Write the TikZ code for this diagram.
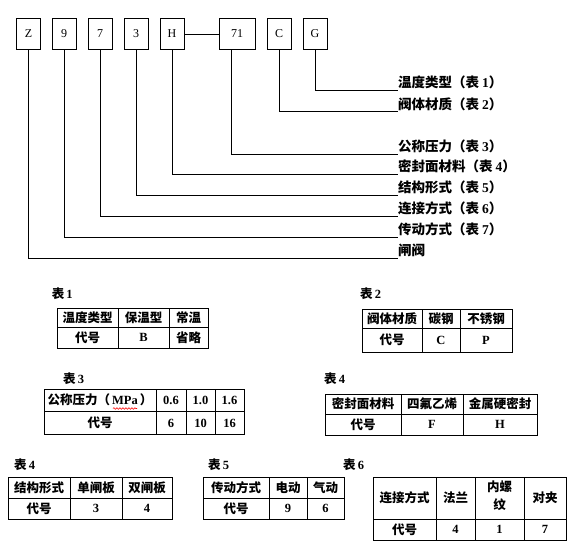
\documentclass[tikz,border=0pt]{standalone}
\usepackage{fontspec}
\setmainfont{Liberation Serif}
\newfontfamily\cjk{Noto Sans CJK SC}
\usetikzlibrary{decorations.pathmorphing}
\newcommand{\zh}[1]{{\cjk\bfseries #1}}
\newcommand{\nb}[1]{{\bfseries #1}}
\begin{document}
\begin{tikzpicture}[x=1pt,y=-1pt,
  codebox/.style={draw,line width=1pt,minimum width=24pt,minimum height=31pt,inner sep=0pt,font=\fontsize{12}{12}\selectfont},
  lbl/.style={anchor=south west,inner xsep=0pt,inner ysep=1pt,font=\fontsize{13.5}{14}\selectfont},
  conn/.style={line width=1pt},
  cell/.style={inner sep=0pt,font=\fontsize{12.5}{14}\selectfont,align=center},
  tabttl/.style={anchor=west,inner sep=0pt,font=\fontsize{12.5}{14}\selectfont},
  tgrid/.style={line width=1pt},
  squiggle/.style={red,line width=0.6pt,decorate,decoration={snake,amplitude=0.8pt,segment length=3pt}}]
\useasboundingbox (0,0) rectangle (580,554);
% code boxes
\node[codebox] (bZ) at (28.5,34) {Z};
\node[codebox] (b9) at (64,34) {9};
\node[codebox] (b7) at (100,34) {7};
\node[codebox] (b3) at (136,34) {3};
\node[codebox] (bH) at (172,34) {H};
\node[codebox,minimum width=36pt] (b71) at (237,34) {71};
\node[codebox] (bC) at (279,34) {C};
\node[codebox] (bG) at (315,34) {G};
\draw[conn] (bH.east) -- (b71.west);
% labels
\node[lbl] (lG) at (398,90.5) {\zh{温度类型（表}\hspace{3pt}\nb{1}\zh{）}};
\node[lbl] (lC) at (398,111.8) {\zh{阀体材质（表}\hspace{3pt}\nb{2}\zh{）}};
\node[lbl] (l71) at (398,154) {\zh{公称压力（表}\hspace{3pt}\nb{3}\zh{）}};
\node[lbl] (lH) at (398,174) {\zh{密封面材料（表}\hspace{3pt}\nb{4}\zh{）}};
\node[lbl] (l3) at (398,195) {\zh{结构形式（表}\hspace{3pt}\nb{5}\zh{）}};
\node[lbl] (l7) at (398,216) {\zh{连接方式（表}\hspace{3pt}\nb{6}\zh{）}};
\node[lbl] (l9) at (398,237) {\zh{传动方式（表}\hspace{3pt}\nb{7}\zh{）}};
\node[lbl] (lZ) at (398,258) {\zh{闸阀}};
% connectors
\draw[conn] (bG.south) |- (lG.south west);
\draw[conn] (bC.south) |- (lC.south west);
\draw[conn] ([xshift=-6pt]b71.south) |- (l71.south west);
\draw[conn] (bH.south) |- (lH.south west);
\draw[conn] (b3.south) |- (l3.south west);
\draw[conn] (b7.south) |- (l7.south west);
\draw[conn] (b9.south) |- (l9.south west);
\draw[conn] (bZ.south) |- (lZ.south west);
% Table 1
\node[tabttl] (T1) at (51.7,294) {\zh{表}\,\nb{1}};
\draw[tgrid] (57,308) rectangle (208,348);
\draw[tgrid] (57,327) -- (208,327) (118,308) -- (118,348) (169,308) -- (169,348);
\node[cell] (t1a) at (87.5,317.5) {\zh{温度类型}};
\node[cell] (t1b) at (143.5,317.5) {\zh{保温型}};
\node[cell] (t1c) at (188.5,317.5) {\zh{常温}};
\node[cell] (t1d) at (87.5,337.5) {\zh{代号}};
\node[cell] (t1e) at (143.5,337.5) {\nb{B}};
\node[cell] (t1f) at (188.5,337.5) {\zh{省略}};
% Table 2
\node[tabttl] (T2) at (360,294) {\zh{表}\,\nb{2}};
\draw[tgrid] (362,309) rectangle (512,352);
\draw[tgrid] (362,328) -- (512,328) (422,309) -- (422,352) (460,309) -- (460,352);
\node[cell] (t2a) at (392,318.5) {\zh{阀体材质}};
\node[cell] (t2b) at (441,318.5) {\zh{碳钢}};
\node[cell] (t2c) at (486,318.5) {\zh{不锈钢}};
\node[cell] (t2d) at (392,340) {\zh{代号}};
\node[cell] (t2e) at (441,340) {\nb{C}};
\node[cell] (t2f) at (486,340) {\nb{P}};
% Table 3
\node[tabttl] (T3) at (63,378.5) {\zh{表}\,\nb{3}};
\draw[tgrid] (44,389.5) rectangle (244,434.7);
\draw[tgrid] (44,411) -- (244,411) (156,389.5) -- (156,434.7) (186,389.5) -- (186,434.7) (215,389.5) -- (215,434.7);
\node[cell] (t3a) at (100,400) {\zh{公称压力（}\hspace{2pt}\nb{MPa}\hspace{2pt}\zh{）}};
\node[cell] (t3b) at (171,400) {\nb{0.6}};
\node[cell] (t3c) at (200.5,400) {\nb{1.0}};
\node[cell] (t3d) at (229.5,400) {\nb{1.6}};
\node[cell] (t3e) at (100,423) {\zh{代号}};
\node[cell] (t3f) at (171,423) {\nb{6}};
\node[cell] (t3g) at (200.5,423) {\nb{10}};
\node[cell] (t3h) at (229.5,423) {\nb{16}};
\draw[squiggle] (113,408.5) -- (137,408.5);
% Table 4 (seal)
\node[tabttl] (T4a) at (324,379) {\zh{表}\,\nb{4}};
\draw[tgrid] (325,394) rectangle (537,435);
\draw[tgrid] (325,414) -- (537,414) (401,394) -- (401,435) (463,394) -- (463,435);
\node[cell] (t4a) at (363,404) {\zh{密封面材料}};
\node[cell] (t4b) at (432,404) {\zh{四氟乙烯}};
\node[cell] (t4c) at (500,404) {\zh{金属硬密封}};
\node[cell] (t4d) at (363,424.5) {\zh{代号}};
\node[cell] (t4e) at (432,424.5) {\nb{F}};
\node[cell] (t4f) at (500,424.5) {\nb{H}};
% Table 4 (structure)
\node[tabttl] (T4b) at (14,465) {\zh{表}\,\nb{4}};
\draw[tgrid] (8,477) rectangle (172,519);
\draw[tgrid] (8,498) -- (172,498) (70,477) -- (70,519) (122,477) -- (122,519);
\node[cell] (t5a) at (39,487.5) {\zh{结构形式}};
\node[cell] (t5b) at (96,487.5) {\zh{单闸板}};
\node[cell] (t5c) at (147,487.5) {\zh{双闸板}};
\node[cell] (t5d) at (39,508.5) {\zh{代号}};
\node[cell] (t5e) at (96,508.5) {\nb{3}};
\node[cell] (t5f) at (147,508.5) {\nb{4}};
% Table 5
\node[tabttl] (T5) at (208,465) {\zh{表}\,\nb{5}};
\draw[tgrid] (203,477) rectangle (344,519);
\draw[tgrid] (203,498) -- (344,498) (269,477) -- (269,519) (307,477) -- (307,519);
\node[cell] (t6a) at (236,487.5) {\zh{传动方式}};
\node[cell] (t6b) at (288,487.5) {\zh{电动}};
\node[cell] (t6c) at (325.5,487.5) {\zh{气动}};
\node[cell] (t6d) at (236,508.5) {\zh{代号}};
\node[cell] (t6e) at (288,508.5) {\nb{9}};
\node[cell] (t6f) at (325.5,508.5) {\nb{6}};
% Table 6
\node[tabttl] (T6) at (343,465) {\zh{表}\,\nb{6}};
\draw[tgrid] (373,477) rectangle (566,540);
\draw[tgrid] (373,519) -- (566,519) (436,477) -- (436,540) (475,477) -- (475,540) (524,477) -- (524,540);
\node[cell] (t7a) at (404.5,498) {\zh{连接方式}};
\node[cell] (t7b) at (455.5,498) {\zh{法兰}};
\node[cell,font=\fontsize{12.5}{18}\selectfont] (t7c) at (499.5,496) {\zh{内螺}\\\zh{纹}};
\node[cell] (t7d) at (545,498) {\zh{对夹}};
\node[cell] (t7e) at (404.5,529.5) {\zh{代号}};
\node[cell] (t7f) at (455.5,529.5) {\nb{4}};
\node[cell] (t7g) at (499.5,529.5) {\nb{1}};
\node[cell] (t7h) at (545,529.5) {\nb{7}};
\end{tikzpicture}
\end{document}
